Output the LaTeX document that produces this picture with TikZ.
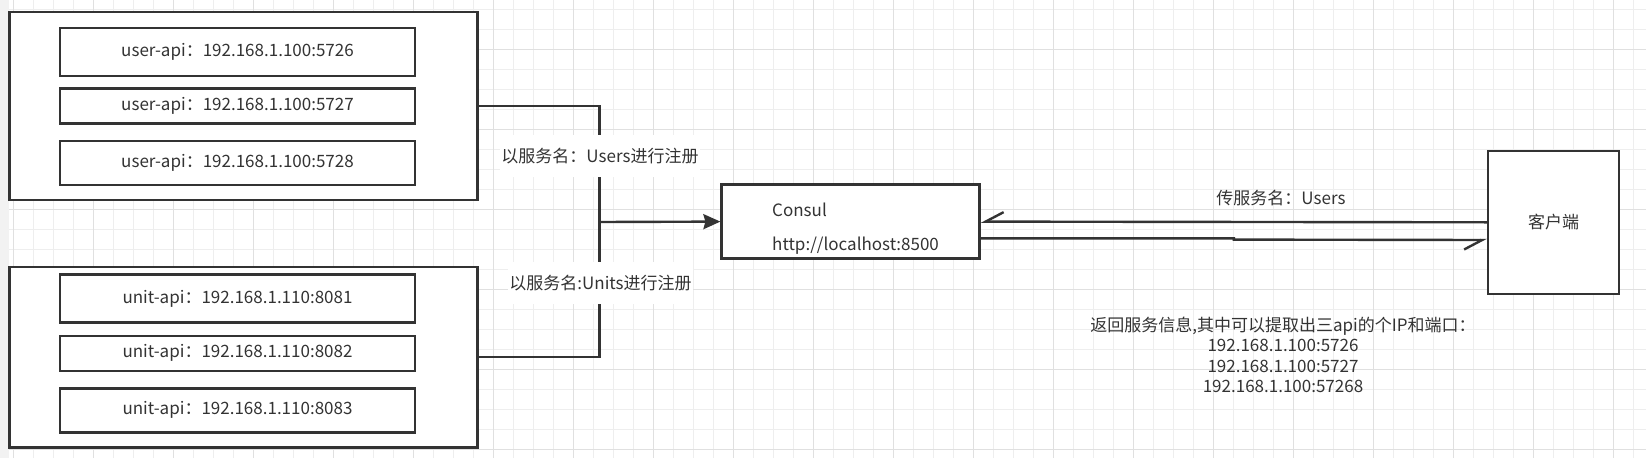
\documentclass[tikz,border=0pt]{standalone}
\usepackage{fontspec}
\setmainfont{Noto Sans CJK SC}
\usetikzlibrary{arrows.meta}
\definecolor{ink}{HTML}{333333}
\definecolor{gridfine}{HTML}{EEEEEE}
\definecolor{gridmajor}{HTML}{E0E0E0}
\definecolor{strip}{HTML}{F2F2F2}
\tikzset{
  box/.style={draw=ink,line width=2.4pt,fill=white,inner sep=0pt,text=ink,
    font=\fontsize{17}{20}\selectfont},
  outerbox/.style={box,minimum width=468},
  apibox/.style={box,minimum width=355,minimum height=#1},
  conn/.style={draw=ink,line width=2.4pt},
  lbl/.style={fill=white,text=ink,inner xsep=1pt,inner ysep=13pt,
    font=\fontsize{17}{20}\selectfont},
  halfarrow/.style={-{Straight Barb[harpoon,swap,length=18pt,width=19pt,line width=2.4pt]}}
}
\begin{document}
\begin{tikzpicture}[x=1pt,y=-1pt]
  \useasboundingbox (0,0) rectangle (1646,458);
  %background grid
  \fill[strip] (0,0) rectangle (9,458);
  \foreach \x in {13.3,33.3,...,1646} \draw[gridfine,line width=1pt] (\x,0) -- (\x,458);
  \foreach \y in {9.3,29.3,...,458} \draw[gridfine,line width=1pt] (9,\y) -- (1646,\y);
  \foreach \x in {13.3,93.3,...,1646} \draw[gridmajor,line width=1pt] (\x,0) -- (\x,458);
  \foreach \y in {49.3,129.3,...,458} \draw[gridmajor,line width=1pt] (9,\y) -- (1646,\y);
  % users
  \node[outerbox,minimum height=188] (users) at (243.6,105.9) {};
  \node[apibox=48] (user1) at (237.5,51.9) {user-api：192.168.1.100:5726};
  \node[apibox=35] (user2) at (237.5,105.8) {user-api：192.168.1.100:5727};
  \node[apibox=44] (user3) at (237.5,163.2) {user-api：192.168.1.100:5728};
  % units
  \node[outerbox,minimum height=180.6] (units) at (243.6,357) {};
  \node[apibox=48] (unit1) at (237.5,298.5) {unit-api：192.168.1.110:8081};
  \node[apibox=35] (unit2) at (237.5,353.2) {unit-api：192.168.1.110:8082};
  \node[apibox=44] (unit3) at (237.5,410.3) {unit-api：192.168.1.110:8083};
  % consul + client
  \node[box,minimum width=258,minimum height=74] (consul) at (850.6,221.6) {};
  \node[text=ink,align=left,anchor=west,inner sep=0pt,
    font=\fontsize{17}{34}\selectfont] (consultxt) at (772,229) {Consul\\http://localhost:8500};
  \node[box,minimum width=131,minimum height=143] (client) at (1553.7,222.3) {客户端};
  \coordinate (join) at (599.5,222);
  \draw[conn] (users.east) -| (join);
  \draw[conn] (units.east) -| (join);
  \draw[conn,-{Stealth[length=17pt,width=15pt,inset=2pt,fill=ink]}] (join) -- (consul.west);
  \draw[conn,halfarrow] (client.west) -- (consul.east);
  \draw[conn,halfarrow] ([yshift=-16.7pt]consul.east) -- ++(253,0) -- ++(0,1.3)
    -- ([yshift=-17.7pt]client.west);
  % labels
  \node[lbl] (regusers) at (600,156) {以服务名：Users进行注册};
  \node[lbl] (regunits) at (600.5,283) {以服务名:Units进行注册};
  \node[text=ink,font=\fontsize{17}{20}\selectfont] (ask) at (1281,197.7) {传服务名：Users};
  \node[text=ink,align=center,font=\fontsize{17}{20.5}\selectfont] (reply) at (1283,355)
    {返回服务信息,其中可以提取出三api的个IP和端口：\\192.168.1.100:5726\\192.168.1.100:5727\\192.168.1.100:57268};
\end{tikzpicture}
\end{document}
